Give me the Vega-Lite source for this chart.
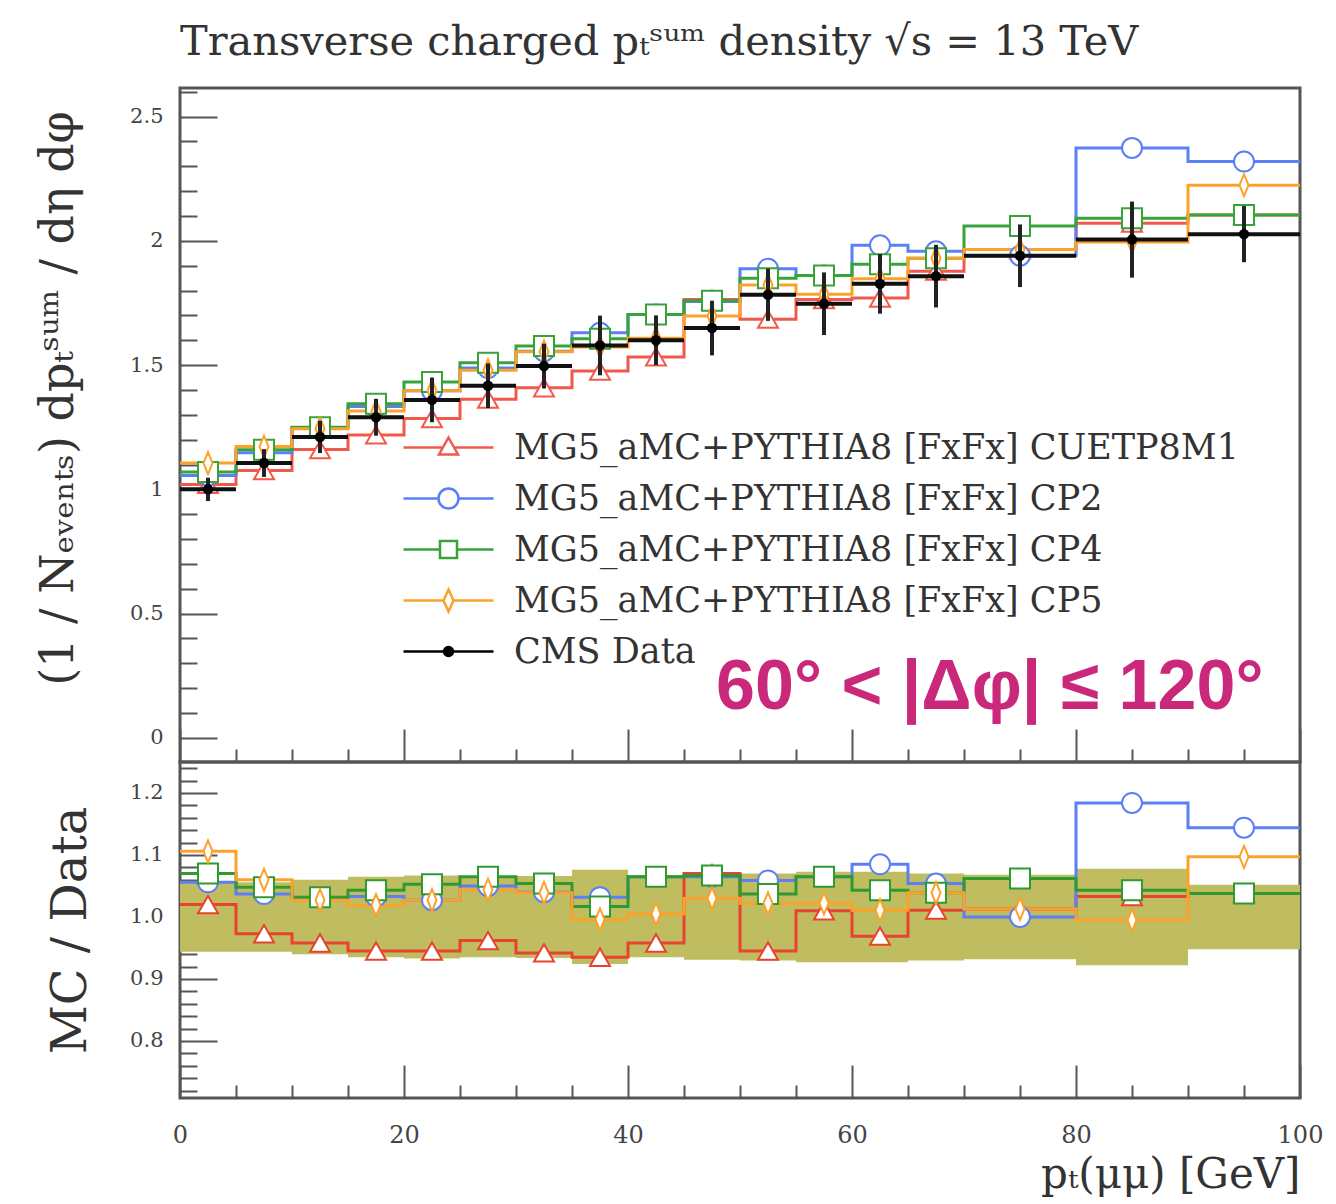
{
  "$schema": "https://vega.github.io/schema/vega-lite/v6.json",
  "background": "white",
  "padding": {"left": 34, "top": 21, "right": 30, "bottom": 4},
  "title": {"text": "Transverse charged p\u209c\u02e2\u1d58\u1d50 density  \u221as = 13 TeV", "anchor": "start", "frame": "group", "font": "DejaVu Serif", "fontSize": 41.5, "fontWeight": "normal", "color": "#333", "offset": 16},
  "config": {
    "view": {"stroke": "#555", "strokeWidth": 3},
    "axis": {"labelFont": "DejaVu Serif", "titleFont": "DejaVu Serif", "titleFontWeight": "normal", "labelColor": "#444", "titleColor": "#333", "tickColor": "#555", "tickWidth": 2, "domain": false, "grid": false, "labelOverlap": false}
  },
  "datasets": {
    "bins": [
      {"lo": 0, "hi": 5, "c": 2.5, "d": 1.000, "dlo": 0.953, "dhi": 1.047, "blo": 0.944, "bhi": 1.056},
      {"lo": 5, "hi": 10, "c": 7.5, "d": 1.106, "dlo": 1.050, "dhi": 1.162, "blo": 0.944, "bhi": 1.056},
      {"lo": 10, "hi": 15, "c": 12.5, "d": 1.211, "dlo": 1.146, "dhi": 1.276, "blo": 0.940, "bhi": 1.060},
      {"lo": 15, "hi": 20, "c": 17.5, "d": 1.290, "dlo": 1.216, "dhi": 1.364, "blo": 0.935, "bhi": 1.065},
      {"lo": 20, "hi": 25, "c": 22.5, "d": 1.360, "dlo": 1.270, "dhi": 1.450, "blo": 0.933, "bhi": 1.067},
      {"lo": 25, "hi": 30, "c": 27.5, "d": 1.417, "dlo": 1.327, "dhi": 1.507, "blo": 0.935, "bhi": 1.065},
      {"lo": 30, "hi": 35, "c": 32.5, "d": 1.496, "dlo": 1.406, "dhi": 1.586, "blo": 0.934, "bhi": 1.066},
      {"lo": 35, "hi": 40, "c": 37.5, "d": 1.579, "dlo": 1.459, "dhi": 1.699, "blo": 0.924, "bhi": 1.076},
      {"lo": 40, "hi": 45, "c": 42.5, "d": 1.600, "dlo": 1.500, "dhi": 1.700, "blo": 0.935, "bhi": 1.065},
      {"lo": 45, "hi": 50, "c": 47.5, "d": 1.649, "dlo": 1.539, "dhi": 1.759, "blo": 0.931, "bhi": 1.069},
      {"lo": 50, "hi": 55, "c": 52.5, "d": 1.783, "dlo": 1.678, "dhi": 1.888, "blo": 0.930, "bhi": 1.070},
      {"lo": 55, "hi": 60, "c": 57.5, "d": 1.747, "dlo": 1.621, "dhi": 1.873, "blo": 0.927, "bhi": 1.073},
      {"lo": 60, "hi": 65, "c": 62.5, "d": 1.827, "dlo": 1.707, "dhi": 1.947, "blo": 0.927, "bhi": 1.073},
      {"lo": 65, "hi": 70, "c": 67.5, "d": 1.858, "dlo": 1.732, "dhi": 1.984, "blo": 0.930, "bhi": 1.070},
      {"lo": 70, "hi": 80, "c": 75, "d": 1.940, "dlo": 1.814, "dhi": 2.066, "blo": 0.932, "bhi": 1.068},
      {"lo": 80, "hi": 90, "c": 85, "d": 2.005, "dlo": 1.852, "dhi": 2.158, "blo": 0.922, "bhi": 1.078},
      {"lo": 90, "hi": 100, "c": 95, "d": 2.027, "dlo": 1.914, "dhi": 2.140, "blo": 0.948, "bhi": 1.052}
    ],
    "mc": [
      {"s": "CUETP8M1", "lo": 0, "c": 2.5, "v": 1.020, "r": 1.020},
      {"s": "CUETP8M1", "lo": 5, "c": 7.5, "v": 1.076, "r": 0.973},
      {"s": "CUETP8M1", "lo": 10, "c": 12.5, "v": 1.160, "r": 0.958},
      {"s": "CUETP8M1", "lo": 15, "c": 17.5, "v": 1.219, "r": 0.945},
      {"s": "CUETP8M1", "lo": 20, "c": 22.5, "v": 1.285, "r": 0.945},
      {"s": "CUETP8M1", "lo": 25, "c": 27.5, "v": 1.363, "r": 0.962},
      {"s": "CUETP8M1", "lo": 30, "c": 32.5, "v": 1.409, "r": 0.942},
      {"s": "CUETP8M1", "lo": 35, "c": 37.5, "v": 1.476, "r": 0.935},
      {"s": "CUETP8M1", "lo": 40, "c": 42.5, "v": 1.533, "r": 0.958},
      {"s": "CUETP8M1", "lo": 45, "c": 47.5, "v": 1.764, "r": 1.070},
      {"s": "CUETP8M1", "lo": 50, "c": 52.5, "v": 1.685, "r": 0.945},
      {"s": "CUETP8M1", "lo": 55, "c": 57.5, "v": 1.764, "r": 1.010},
      {"s": "CUETP8M1", "lo": 60, "c": 62.5, "v": 1.770, "r": 0.969},
      {"s": "CUETP8M1", "lo": 65, "c": 67.5, "v": 1.878, "r": 1.011},
      {"s": "CUETP8M1", "lo": 70, "c": 75, "v": 1.965, "r": 1.013},
      {"s": "CUETP8M1", "lo": 80, "c": 85, "v": 2.071, "r": 1.033},
      {"s": "CUETP8M1", "lo": 90, "c": 95, "v": 2.104, "r": 1.038},
      {"s": "CUETP8M1", "lo": 100, "c": null, "v": 2.104, "r": 1.038},
      {"s": "CP2", "lo": 0, "c": 2.5, "v": 1.056, "r": 1.056},
      {"s": "CP2", "lo": 5, "c": 7.5, "v": 1.147, "r": 1.037},
      {"s": "CP2", "lo": 10, "c": 12.5, "v": 1.249, "r": 1.031},
      {"s": "CP2", "lo": 15, "c": 17.5, "v": 1.333, "r": 1.033},
      {"s": "CP2", "lo": 20, "c": 22.5, "v": 1.397, "r": 1.027},
      {"s": "CP2", "lo": 25, "c": 27.5, "v": 1.488, "r": 1.050},
      {"s": "CP2", "lo": 30, "c": 32.5, "v": 1.556, "r": 1.040},
      {"s": "CP2", "lo": 35, "c": 37.5, "v": 1.630, "r": 1.032},
      {"s": "CP2", "lo": 40, "c": 42.5, "v": 1.704, "r": 1.065},
      {"s": "CP2", "lo": 45, "c": 47.5, "v": 1.756, "r": 1.065},
      {"s": "CP2", "lo": 50, "c": 52.5, "v": 1.888, "r": 1.059},
      {"s": "CP2", "lo": 55, "c": 57.5, "v": 1.861, "r": 1.065},
      {"s": "CP2", "lo": 60, "c": 62.5, "v": 1.982, "r": 1.085},
      {"s": "CP2", "lo": 65, "c": 67.5, "v": 1.958, "r": 1.054},
      {"s": "CP2", "lo": 70, "c": 75, "v": 1.940, "r": 1.000},
      {"s": "CP2", "lo": 80, "c": 85, "v": 2.374, "r": 1.184},
      {"s": "CP2", "lo": 90, "c": 95, "v": 2.319, "r": 1.144},
      {"s": "CP2", "lo": 100, "c": null, "v": 2.319, "r": 1.144},
      {"s": "CP4", "lo": 0, "c": 2.5, "v": 1.070, "r": 1.070},
      {"s": "CP4", "lo": 5, "c": 7.5, "v": 1.159, "r": 1.048},
      {"s": "CP4", "lo": 10, "c": 12.5, "v": 1.250, "r": 1.032},
      {"s": "CP4", "lo": 15, "c": 17.5, "v": 1.345, "r": 1.043},
      {"s": "CP4", "lo": 20, "c": 22.5, "v": 1.432, "r": 1.053},
      {"s": "CP4", "lo": 25, "c": 27.5, "v": 1.509, "r": 1.065},
      {"s": "CP4", "lo": 30, "c": 32.5, "v": 1.577, "r": 1.054},
      {"s": "CP4", "lo": 35, "c": 37.5, "v": 1.606, "r": 1.017},
      {"s": "CP4", "lo": 40, "c": 42.5, "v": 1.704, "r": 1.065},
      {"s": "CP4", "lo": 45, "c": 47.5, "v": 1.759, "r": 1.067},
      {"s": "CP4", "lo": 50, "c": 52.5, "v": 1.849, "r": 1.037},
      {"s": "CP4", "lo": 55, "c": 57.5, "v": 1.861, "r": 1.065},
      {"s": "CP4", "lo": 60, "c": 62.5, "v": 1.906, "r": 1.043},
      {"s": "CP4", "lo": 65, "c": 67.5, "v": 1.930, "r": 1.039},
      {"s": "CP4", "lo": 70, "c": 75, "v": 2.060, "r": 1.062},
      {"s": "CP4", "lo": 80, "c": 85, "v": 2.091, "r": 1.043},
      {"s": "CP4", "lo": 90, "c": 95, "v": 2.104, "r": 1.038},
      {"s": "CP4", "lo": 100, "c": null, "v": 2.104, "r": 1.038},
      {"s": "CP5", "lo": 0, "c": 2.5, "v": 1.106, "r": 1.106},
      {"s": "CP5", "lo": 5, "c": 7.5, "v": 1.172, "r": 1.060},
      {"s": "CP5", "lo": 10, "c": 12.5, "v": 1.244, "r": 1.027},
      {"s": "CP5", "lo": 15, "c": 17.5, "v": 1.315, "r": 1.019},
      {"s": "CP5", "lo": 20, "c": 22.5, "v": 1.397, "r": 1.027},
      {"s": "CP5", "lo": 25, "c": 27.5, "v": 1.479, "r": 1.044},
      {"s": "CP5", "lo": 30, "c": 32.5, "v": 1.554, "r": 1.039},
      {"s": "CP5", "lo": 35, "c": 37.5, "v": 1.573, "r": 0.996},
      {"s": "CP5", "lo": 40, "c": 42.5, "v": 1.608, "r": 1.005},
      {"s": "CP5", "lo": 45, "c": 47.5, "v": 1.698, "r": 1.030},
      {"s": "CP5", "lo": 50, "c": 52.5, "v": 1.822, "r": 1.022},
      {"s": "CP5", "lo": 55, "c": 57.5, "v": 1.785, "r": 1.022},
      {"s": "CP5", "lo": 60, "c": 62.5, "v": 1.847, "r": 1.011},
      {"s": "CP5", "lo": 65, "c": 67.5, "v": 1.930, "r": 1.039},
      {"s": "CP5", "lo": 70, "c": 75, "v": 1.965, "r": 1.013},
      {"s": "CP5", "lo": 80, "c": 85, "v": 1.995, "r": 0.995},
      {"s": "CP5", "lo": 90, "c": 95, "v": 2.224, "r": 1.097},
      {"s": "CP5", "lo": 100, "c": null, "v": 2.224, "r": 1.097}
    ],
    "leg": [
      {"name": "MG5_aMC+PYTHIA8 [FxFx] CUETP8M1", "x": 50, "y": -1},
      {"name": "MG5_aMC+PYTHIA8 [FxFx] CP2", "x": 50, "y": -1},
      {"name": "MG5_aMC+PYTHIA8 [FxFx] CP4", "x": 50, "y": -1},
      {"name": "MG5_aMC+PYTHIA8 [FxFx] CP5", "x": 50, "y": -1},
      {"name": "CMS Data", "x": 50, "y": -1}
    ],
    "note": [{"x": 72.3, "y": 0.2, "t": "60\u00b0 < |\u0394\u03c6| \u2264 120\u00b0"}]
  },
  "spacing": 0,
  "bounds": "flush",
  "resolve": {"scale": {"stroke": "independent", "fill": "independent", "shape": "independent"}, "legend": {"stroke": "independent", "fill": "independent", "shape": "independent"}},
  "vconcat": [
    {
      "width": 1120,
      "height": 674,
      "resolve": {"scale": {"stroke": "independent", "fill": "independent", "shape": "independent"}, "legend": {"stroke": "independent", "fill": "independent", "shape": "independent"}},
      "layer": [
        {
          "data": {"name": "mc"},
          "mark": {"type": "line", "interpolate": "step-after", "strokeWidth": 3, "clip": true},
          "encoding": {
            "x": {"field": "lo", "type": "quantitative", "scale": {"domain": [0, 100], "nice": false},
              "axis": {"orient": "bottom", "tickCount": 20, "labels": false, "title": null,
                "tickSize": {"condition": {"test": "datum.value % 20 === 0", "value": -33}, "value": -13}}},
            "y": {"field": "v", "type": "quantitative", "scale": {"domain": [-0.097, 2.615], "nice": false, "zero": false},
              "axis": {"tickCount": 27,
                "labelExpr": "abs(datum.value*2 - round(datum.value*2)) < 0.001 ? format(datum.value, '~g') : ''",
                "labelFontSize": 21, "labelPadding": 54, "labelOverlap": false, "labelBound": false, "labelFlush": false,
                "tickSize": {"condition": {"test": "abs(datum.value*2 - round(datum.value*2)) < 0.001", "value": -37}, "value": -17},
                "title": "(1 / N\u2091\u1d65\u2091\u2099\u209c\u209b)  dp\u209c\u02e2\u1d58\u1d50  / d\u03b7 d\u03c6", "titleFontSize": 46, "titlePadding": 47, "titleY": 310}},
            "stroke": {"field": "s", "type": "nominal", "scale": {"domain": ["CUETP8M1", "CP2", "CP4", "CP5"], "range": ["#f05a4c", "#5b7ff5", "#37a33a", "#fca22a"]}, "legend": null}
          }
        },
        {
          "data": {"name": "mc"},
          "transform": [{"filter": "datum.c != null"}],
          "mark": {"type": "point", "filled": true, "fill": "white", "strokeWidth": 2, "size": 400, "opacity": 1},
          "encoding": {
            "x": {"field": "c", "type": "quantitative"},
            "y": {"field": "v", "type": "quantitative"},
            "stroke": {"field": "s", "type": "nominal", "scale": {"domain": ["CUETP8M1", "CP2", "CP4", "CP5"], "range": ["#f05a4c", "#5b7ff5", "#37a33a", "#fca22a"]}, "legend": null},
            "shape": {"field": "s", "type": "nominal", "scale": {"domain": ["CUETP8M1", "CP2", "CP4", "CP5"], "range": ["triangle-up", "circle", "square", "M0,-1.1L0.45,0L0,1.1L-0.45,0Z"]}, "legend": null}
          }
        },
        {
          "data": {"name": "bins"},
          "mark": {"type": "rule", "color": "#222", "strokeWidth": 4},
          "encoding": {"x": {"field": "c", "type": "quantitative"}, "y": {"field": "dlo", "type": "quantitative"}, "y2": {"field": "dhi"}}
        },
        {
          "data": {"name": "bins"},
          "mark": {"type": "rule", "color": "#111", "strokeWidth": 4},
          "encoding": {"x": {"field": "lo", "type": "quantitative"}, "x2": {"field": "hi"}, "y": {"field": "d", "type": "quantitative"}}
        },
        {
          "data": {"name": "bins"},
          "mark": {"type": "circle", "color": "#000", "size": 110, "opacity": 1},
          "encoding": {"x": {"field": "c", "type": "quantitative"}, "y": {"field": "d", "type": "quantitative"}}
        },
        {
          "data": {"name": "note"},
          "mark": {"type": "text", "font": "Liberation Sans", "fontWeight": "bold", "fontSize": 70, "color": "#c9287b", "align": "center", "baseline": "middle"},
          "encoding": {"x": {"field": "x", "type": "quantitative"}, "y": {"field": "y", "type": "quantitative"}, "text": {"field": "t"}}
        },
        {
          "data": {"name": "leg"},
          "mark": {"type": "point", "clip": true, "strokeWidth": 2.5, "opacity": 1},
          "encoding": {
            "x": {"field": "x", "type": "quantitative"},
            "y": {"field": "y", "type": "quantitative"},
            "stroke": {"field": "name", "type": "nominal",
              "scale": {"domain": ["MG5_aMC+PYTHIA8 [FxFx] CUETP8M1", "MG5_aMC+PYTHIA8 [FxFx] CP2", "MG5_aMC+PYTHIA8 [FxFx] CP4", "MG5_aMC+PYTHIA8 [FxFx] CP5", "CMS Data"], "range": ["#f05a4c", "#5b7ff5", "#37a33a", "#fca22a", "#000000"]},
              "legend": {"title": null, "orient": "none", "legendX": 251, "legendY": 342, "symbolSize": 400, "symbolStrokeWidth": 2.5, "labelFont": "DejaVu Serif", "labelFontSize": 35, "labelColor": "#333", "labelOffset": 48, "rowPadding": 15, "padding": 0, "labelLimit": 0, "symbolOpacity": 1}},
            "fill": {"field": "name", "type": "nominal",
              "scale": {"domain": ["MG5_aMC+PYTHIA8 [FxFx] CUETP8M1", "MG5_aMC+PYTHIA8 [FxFx] CP2", "MG5_aMC+PYTHIA8 [FxFx] CP4", "MG5_aMC+PYTHIA8 [FxFx] CP5", "CMS Data"], "range": ["#ffffff", "#ffffff", "#ffffff", "#ffffff", "#000000"]},
              "legend": {"title": null, "orient": "none", "legendX": 251, "legendY": 342, "symbolSize": 400, "symbolStrokeWidth": 2.5, "labelFont": "DejaVu Serif", "labelFontSize": 35, "labelColor": "#333", "labelOffset": 48, "rowPadding": 15, "padding": 0, "labelLimit": 0, "symbolOpacity": 1}},
            "shape": {"field": "name", "type": "nominal",
              "scale": {"domain": ["MG5_aMC+PYTHIA8 [FxFx] CUETP8M1", "MG5_aMC+PYTHIA8 [FxFx] CP2", "MG5_aMC+PYTHIA8 [FxFx] CP4", "MG5_aMC+PYTHIA8 [FxFx] CP5", "CMS Data"],
                "range": ["M-4.5,0L-0.55,0M0.55,0L4.5,0M0,-1L0.95,0.7L-0.95,0.7Z", "M-4.5,0L-1,0M1,0L4.5,0M-1,0A1,1 0 1,1 1,0A1,1 0 1,1 -1,0Z", "M-4.5,0L-0.85,0M0.85,0L4.5,0M-0.85,-0.85L0.85,-0.85L0.85,0.85L-0.85,0.85Z", "M-4.5,0L-0.5,0M0.5,0L4.5,0M0,-1.1L0.5,0L0,1.1L-0.5,0Z", "M-4.5,0L4.5,0M-0.45,0A0.45,0.45 0 1,1 0.45,0A0.45,0.45 0 1,1 -0.45,0Z"]},
              "legend": {"title": null, "orient": "none", "legendX": 251, "legendY": 342, "symbolSize": 400, "symbolStrokeWidth": 2.5, "labelFont": "DejaVu Serif", "labelFontSize": 35, "labelColor": "#333", "labelOffset": 48, "rowPadding": 15, "padding": 0, "labelLimit": 0, "symbolOpacity": 1}}
          }
        }
      ]
    },
    {
      "width": 1120,
      "height": 336,
      "resolve": {"scale": {"stroke": "independent", "shape": "independent"}},
      "layer": [
        {
          "data": {"name": "bins"},
          "mark": {"type": "rect", "color": "#bfbd60", "opacity": 1},
          "encoding": {
            "x": {"field": "lo", "type": "quantitative", "scale": {"domain": [0, 100], "nice": false},
              "axis": {"orient": "bottom", "tickCount": 20,
                "labelExpr": "datum.value % 20 === 0 ? datum.label : ''", "labelFontSize": 24, "labelPadding": 58, "labelOverlap": false, "labelBound": false, "labelFlush": false,
                "tickSize": {"condition": {"test": "datum.value % 20 === 0", "value": -33}, "value": -13},
                "title": "p\u209c(\u03bc\u03bc) [GeV]", "titleFontSize": 42, "titleAnchor": "end", "titlePadding": -13}},
            "x2": {"field": "hi"},
            "y": {"field": "blo", "type": "quantitative", "scale": {"domain": [0.708, 1.25], "nice": false, "zero": false},
              "axis": {"tickCount": 27,
                "labelExpr": "abs(datum.value*10 - round(datum.value*10)) < 0.001 ? format(datum.value, '.1f') : ''",
                "labelFontSize": 21, "labelPadding": 54, "labelOverlap": false, "labelBound": false, "labelFlush": false,
                "tickSize": {"condition": {"test": "abs(datum.value*10 - round(datum.value*10)) < 0.001", "value": -37}, "value": -17},
                "title": "MC / Data", "titleFontSize": 48, "titlePadding": 34}},
            "y2": {"field": "bhi"}
          }
        },
        {
          "mark": {"type": "rule", "color": "#111", "strokeWidth": 2},
          "encoding": {"y": {"datum": 1}}
        },
        {
          "data": {"name": "mc"},
          "mark": {"type": "line", "interpolate": "step-after", "strokeWidth": 3, "clip": true},
          "encoding": {
            "x": {"field": "lo", "type": "quantitative"},
            "y": {"field": "r", "type": "quantitative"},
            "stroke": {"field": "s", "type": "nominal", "scale": {"domain": ["CUETP8M1", "CP2", "CP4", "CP5"], "range": ["#e8432e", "#5b7ff5", "#2f9a30", "#fca22a"]}, "legend": null}
          }
        },
        {
          "data": {"name": "mc"},
          "transform": [{"filter": "datum.c != null"}],
          "mark": {"type": "point", "filled": true, "fill": "white", "strokeWidth": 2, "size": 400, "opacity": 1},
          "encoding": {
            "x": {"field": "c", "type": "quantitative"},
            "y": {"field": "r", "type": "quantitative"},
            "stroke": {"field": "s", "type": "nominal", "scale": {"domain": ["CUETP8M1", "CP2", "CP4", "CP5"], "range": ["#e8432e", "#5b7ff5", "#2f9a30", "#fca22a"]}, "legend": null},
            "shape": {"field": "s", "type": "nominal", "scale": {"domain": ["CUETP8M1", "CP2", "CP4", "CP5"], "range": ["triangle-up", "circle", "square", "M0,-1.1L0.45,0L0,1.1L-0.45,0Z"]}, "legend": null}
          }
        }
      ]
    }
  ]
}
